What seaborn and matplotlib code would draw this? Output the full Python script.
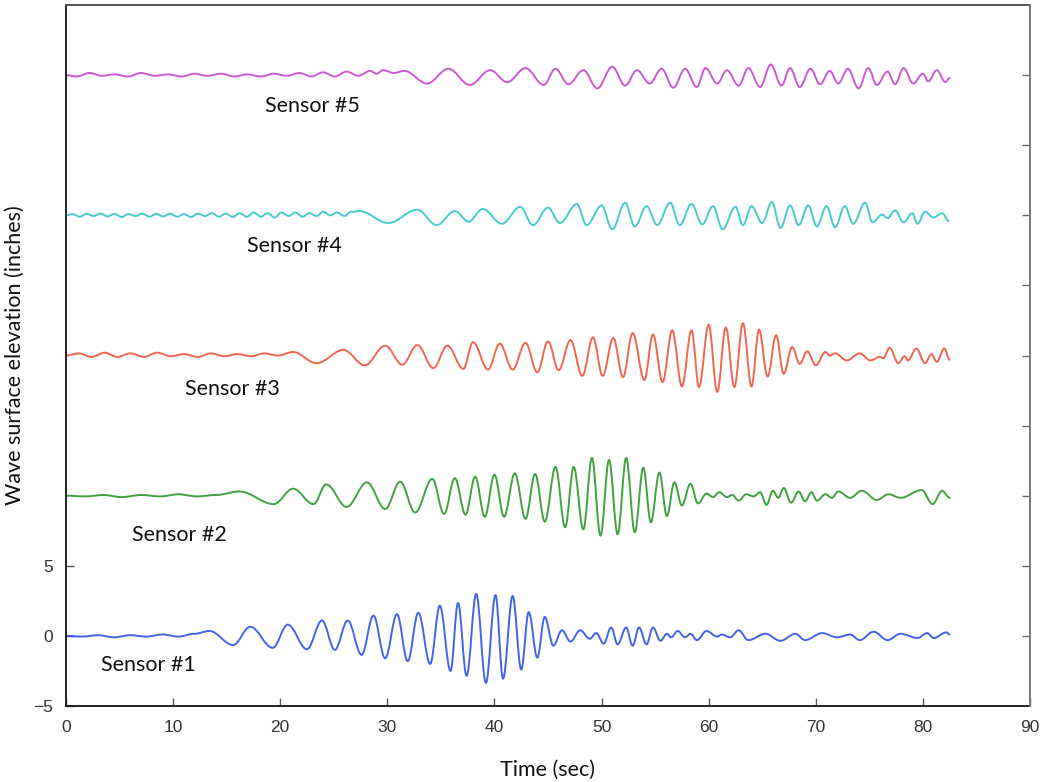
import numpy as np
import matplotlib
matplotlib.use("Agg")
import matplotlib.pyplot as plt
from matplotlib.path import Path
from matplotlib.patches import PathPatch
import seaborn as sns

# Wave records: times (s) of successive crests/troughs and the elevation (in) there
s1_t = [0, 1.5, 3, 4.5, 6, 7.5, 9, 10.5, 12, 13.4, 15.6, 17.2, 19.3, 20.7, 22.5, 23.9,
        25.1, 26.3, 27.6, 28.7, 29.8, 30.9, 31.9, 32.9, 34.0, 34.9, 35.9, 36.6, 37.4,
        38.3, 39.2, 40.1, 40.8, 41.7, 42.5, 43.2, 44.0, 44.7, 45.5, 46.3, 47.1, 48.0,
        48.9, 49.5, 50.2, 50.9, 51.5, 52.3, 52.9, 53.5, 54.2, 54.8, 55.5, 56.1, 56.5,
        57.1, 57.8, 58.3, 58.9, 59.8, 60.8, 61.2, 62.0, 62.8, 63.7, 65.3, 66.7, 68.1,
        69.0, 70.6, 72.0, 73.2, 74.1, 75.4, 76.7, 77.9, 79.5, 80.4, 81.0, 82.2, 82.5]
s1_v = [0.0, -0.05, 0.05, -0.1, 0.05, -0.05, 0.1, -0.05, 0.15, 0.35, -0.65, 0.65, -0.85,
        0.8, -0.95, 1.1, -1.0, 1.1, -1.35, 1.45, -1.6, 1.55, -1.8, 1.65, -2.0, 2.15, -2.5,
        2.35, -2.85, 3.0, -3.35, 2.9, -3.05, 2.85, -2.4, 1.7, -1.55, 1.35, -0.7, 0.4, -0.4,
        0.4, -0.2, 0.2, -0.55, 0.6, -0.6, 0.6, -0.7, 0.6, -0.6, 0.6, -0.35, 0.15, -0.1,
        0.35, -0.1, 0.15, -0.3, 0.35, -0.05, 0.1, -0.1, 0.4, -0.3, 0.15, -0.35, 0.15, -0.3,
        0.2, -0.1, 0.1, -0.3, 0.3, -0.3, 0.15, -0.15, 0.2, -0.15, 0.25, 0.1]

s2_t = [0, 1.8, 3.5, 5.2, 7, 8.8, 10.5, 12.2, 14, 16.2, 19.4, 21.2, 23.1, 24.3, 26.2,
        28.1, 29.8, 31.2, 32.6, 34.2, 35.3, 36.3, 37.3, 38.2, 39.1, 40.0, 40.9, 41.9,
        42.9, 43.8, 44.7, 45.7, 46.6, 47.4, 48.3, 49.1, 49.9, 50.7, 51.5, 52.3, 53.1,
        53.9, 54.6, 55.4, 56.1, 56.8, 57.5, 58.3, 59.0, 59.8, 60.4, 61.0, 61.7, 62.2,
        62.8, 63.5, 64.2, 64.8, 65.4, 66.0, 66.5, 67.0, 67.7, 68.4, 69.0, 69.6, 70.1,
        70.9, 71.5, 72.1, 73.2, 74.3, 75.7, 76.8, 77.9, 79.9, 80.9, 81.8, 82.5]
s2_v = [0.0, -0.05, 0.05, -0.1, 0.05, -0.05, 0.1, -0.05, 0.05, 0.3, -0.6, 0.5, -0.6, 0.8,
        -0.8, 0.95, -0.95, 1.0, -1.2, 1.2, -1.3, 1.25, -1.35, 1.35, -1.5, 1.5, -1.5, 1.6,
        -1.65, 1.55, -1.85, 2.05, -2.25, 2.05, -2.4, 2.7, -2.85, 2.55, -2.75, 2.7, -2.6,
        2.0, -1.9, 1.65, -1.45, 0.95, -0.7, 0.85, -0.55, 0.15, -0.1, 0.25, -0.1, 0.05,
        -0.35, 0.1, -0.05, 0.25, -0.65, 0.35, -0.15, 0.55, -0.5, 0.3, -0.4, 0.25, -0.35,
        0.1, -0.15, 0.3, -0.15, 0.35, -0.3, 0.1, -0.15, 0.4, -0.6, 0.35, -0.15]

s3_t = [0, 1.2, 2.4, 3.6, 4.8, 6.0, 7.3, 8.5, 9.8, 11.0, 12.3, 13.5, 14.8, 16.0, 17.3,
        18.5, 19.8, 21.2, 23.4, 25.9, 27.9, 29.8, 31.4, 32.8, 34.3, 35.6, 37.1, 38.0,
        39.4, 40.5, 41.7, 42.9, 44.0, 45.0, 46.0, 47.1, 48.2, 49.2, 50.1, 51.1, 52.0,
        52.9, 54.0, 54.8, 55.7, 56.6, 57.5, 58.4, 59.1, 60.0, 60.8, 61.6, 62.4, 63.2,
        64.0, 64.7, 65.5, 66.3, 67.0, 67.8, 68.5, 69.2, 70.0, 70.9, 71.3, 71.8, 72.9,
        74.1, 75.1, 76.0, 76.3, 76.9, 77.7, 78.3, 78.6, 79.4, 80.2, 80.8, 81.3, 82.0, 82.5]
s3_v = [0.0, 0.15, -0.1, 0.2, -0.1, 0.15, -0.1, 0.2, -0.05, 0.1, -0.1, 0.15, -0.05, 0.1,
        -0.05, 0.15, 0.0, 0.25, -0.55, 0.4, -0.7, 0.7, -0.65, 0.75, -0.9, 0.7, -0.95, 0.95,
        -1.0, 0.85, -1.0, 0.9, -1.2, 1.0, -1.05, 1.1, -1.45, 1.3, -1.45, 1.25, -1.55, 1.6,
        -1.75, 1.5, -1.9, 1.8, -2.2, 1.8, -2.25, 2.2, -2.6, 2.0, -2.25, 2.3, -2.2, 1.85,
        -1.5, 1.45, -1.3, 0.6, -0.6, 0.3, -0.7, 0.25, 0.0, 0.15, -0.35, 0.15, -0.35, -0.1,
        -0.2, 0.55, -0.55, -0.05, -0.35, 0.5, -0.55, 0.1, -0.45, 0.5, -0.3]

s4_t = [0.0, 0.6, 1.3, 1.9, 2.6, 3.2, 3.9, 4.5, 5.2, 5.8, 6.5, 7.1, 7.8, 8.4, 9.1, 9.7,
        10.4, 11.0, 11.7, 12.3, 13.0, 13.6, 14.3, 14.9, 15.6, 16.2, 16.9, 17.5, 18.2,
        18.8, 19.5, 20.1, 20.8, 21.4, 22.1, 22.7, 23.4, 24.0, 24.7, 25.3, 26.0, 26.6,
        27.4, 30.1, 32.8, 34.6, 36.3, 37.6, 38.9, 40.7, 42.4, 43.6, 45.0, 46.1, 47.7,
        48.6, 50.0, 51.0, 52.2, 53.1, 54.2, 55.2, 56.4, 57.3, 58.4, 59.4, 60.4, 61.3,
        62.5, 63.2, 64.0, 65.0, 65.9, 66.7, 67.6, 68.4, 69.3, 70.1, 71.0, 71.8, 72.7,
        73.5, 74.6, 75.3, 76.2, 76.7, 77.4, 78.2, 79.0, 79.5, 80.2, 81.0, 81.8, 82.4]
s4_v = [0.0, 0.08, -0.1, 0.1, -0.05, 0.12, -0.08, 0.1, -0.12, 0.08, -0.05, 0.12, -0.1,
        0.1, -0.08, 0.12, -0.1, 0.08, -0.12, 0.12, -0.05, 0.15, -0.1, 0.12, -0.12, 0.15,
        -0.1, 0.2, -0.1, 0.15, -0.15, 0.2, -0.05, 0.2, -0.1, 0.15, -0.05, 0.25, 0.0, 0.2,
        -0.05, 0.25, 0.3, -0.55, 0.4, -0.7, 0.3, -0.45, 0.45, -0.6, 0.6, -0.7, 0.55, -0.55,
        0.8, -0.7, 0.7, -1.0, 0.9, -0.8, 0.65, -0.7, 0.9, -0.7, 0.8, -0.65, 0.65, -1.0,
        0.6, -0.7, 0.65, -0.55, 0.95, -0.9, 0.7, -0.7, 0.7, -0.8, 0.65, -0.85, 0.65, -0.6,
        0.9, -0.5, 0.05, -0.2, 0.35, -0.5, 0.15, -0.6, 0.25, -0.15, 0.15, -0.4]

s5_t = [0.0, 1.0, 2.2, 3.4, 4.5, 5.8, 7.0, 8.3, 9.5, 10.8, 12.0, 13.2, 14.5, 15.7, 16.9,
        18.2, 19.4, 20.6, 21.8, 22.9, 24.0, 25.1, 26.2, 27.3, 28.4, 29.0, 29.6, 30.6,
        31.6, 33.7, 35.7, 37.7, 39.6, 41.2, 42.9, 44.6, 45.7, 46.9, 48.3, 49.6, 51.0,
        52.2, 53.3, 54.5, 55.6, 56.7, 57.8, 58.9, 59.7, 60.8, 61.7, 62.8, 63.7, 64.8,
        65.8, 66.8, 67.6, 68.5, 69.5, 70.4, 71.3, 72.1, 73.0, 74.0, 74.9, 75.7, 76.7,
        77.4, 78.2, 79.1, 80.0, 80.5, 81.3, 82.1, 82.5]
s5_v = [0.0, -0.1, 0.15, -0.05, 0.05, -0.1, 0.15, -0.05, 0.05, -0.1, 0.1, -0.05, 0.1,
        -0.1, 0.05, -0.1, 0.1, -0.05, 0.15, -0.1, 0.2, -0.1, 0.25, -0.05, 0.3, 0.1, 0.35,
        0.15, 0.3, -0.6, 0.45, -0.7, 0.35, -0.5, 0.5, -0.7, 0.45, -0.65, 0.35, -0.95, 0.6,
        -0.75, 0.35, -0.6, 0.45, -0.9, 0.45, -0.85, 0.5, -0.6, 0.35, -0.75, 0.5, -0.85,
        0.75, -0.75, 0.5, -0.85, 0.45, -0.65, 0.3, -0.6, 0.45, -0.95, 0.5, -0.7, 0.25,
        -0.65, 0.5, -0.6, 0.1, -0.45, 0.35, -0.5, -0.2]

sensor_names = ["Sensor #1", "Sensor #2", "Sensor #3", "Sensor #4", "Sensor #5"]
sensor_times = [s1_t, s2_t, s3_t, s4_t, s5_t]
sensor_vals = [s1_v, s2_v, s3_v, s4_v, s5_v]

# vertical stacking of the records and placement of their names
offsets = [0, 10, 20, 30, 40]
label_pos = [(7.7, -2.1), (10.6, 7.2), (15.5, 17.6), (21.3, 27.8), (23.0, 37.8)]
colors = ["#2f52e6", "#2e962e", "#f0553f", "#35c6c6", "#c648cc"]

sns.set_theme(style="ticks")
plt.rcParams["font.family"] = ["Liberation Sans", "DejaVu Sans"]

fig = plt.figure(figsize=(10.47, 7.82), dpi=100)
ax = fig.add_axes([66 / 1047, 1 - 706 / 782, (1030 - 66) / 1047, (706 - 5) / 782])


def wave_path(ts, vs, base):
    """Smooth trace through successive extrema (horizontal tangent at each)."""
    verts = [(ts[0], vs[0] + base)]
    codes = [Path.MOVETO]
    k = 0.364
    for (t0, v0), (t1, v1) in zip(zip(ts[:-1], vs[:-1]), zip(ts[1:], vs[1:])):
        dt = t1 - t0
        verts += [(t0 + k * dt, v0 + base), (t1 - k * dt, v1 + base), (t1, v1 + base)]
        codes += [Path.CURVE4] * 3
    return Path(verts, codes)


for name, ts, vs, off, (lx, ly), c in zip(sensor_names, sensor_times, sensor_vals,
                                           offsets, label_pos, colors):
    ax.add_patch(PathPatch(wave_path(ts, vs, off), fill=False, edgecolor=c,
                           lw=1.4, alpha=0.9, capstyle="round", joinstyle="round"))
    ax.text(lx, ly, name, ha="center", va="center", fontsize=15.5,
            family=["Lato", "DejaVu Sans"], color="#111111")

ax.set_xlim(0, 90)
ax.set_ylim(-5, 45)
ax.set_xticks(np.arange(0, 91, 10))
ax.set_yticks([-5, 0, 5])
ax.tick_params(axis="both", direction="in", length=6, width=1, colors="#555555",
               labelcolor="#333333", labelsize=12.5)
ax.tick_params(axis="x", pad=10)
ax.tick_params(axis="y", pad=9)

# right-hand ticks marking each record spacing
ax_r = ax.twinx()
ax_r.set_ylim(ax.get_ylim())
ax_r.set_yticks(np.arange(0, 41, 5))
ax_r.tick_params(axis="y", direction="in", length=6, width=1, colors="#666666",
                 labelright=False)
for side in ["left", "top", "bottom"]:
    ax_r.spines[side].set_visible(False)
ax_r.spines["right"].set_color("#7a7a7a")
ax_r.spines["right"].set_linewidth(1.4)

ax.spines["left"].set_color("#222222")
ax.spines["bottom"].set_color("#222222")
ax.spines["top"].set_color("#555555")
ax.spines["right"].set_visible(False)
for s in ax.spines.values():
    s.set_linewidth(1.4)

ax.set_xlabel("Time (sec)", family=["Lato", "DejaVu Sans"], fontsize=15.5,
              color="#111111", labelpad=18)
ax.set_ylabel("Wave surface elevation (inches)", family=["Lato", "DejaVu Sans"],
              fontsize=15.5, color="#111111", labelpad=6)
ax.grid(False)

fig.savefig("out.png", dpi=100, facecolor="white")
